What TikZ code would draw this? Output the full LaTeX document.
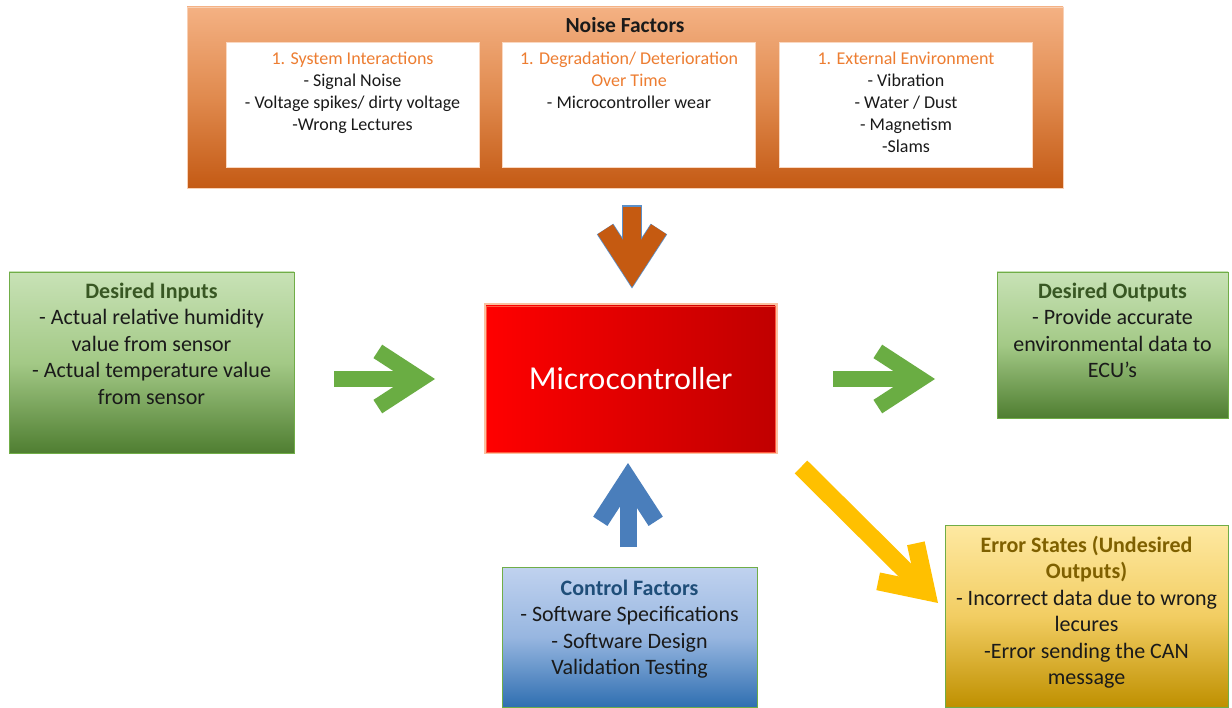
\documentclass[tikz,border=0pt]{standalone}
\usepackage{fontspec}
\setmainfont{Carlito}
\newfontfamily\mcfont{Lato}
\usetikzlibrary{calc}

\definecolor{nfTop}{HTML}{F4B183}
\definecolor{nfMid}{HTML}{E08A4E}
\definecolor{nfBot}{HTML}{C45A14}
\definecolor{nfHead}{HTML}{ED7D31}
\definecolor{grTop}{HTML}{C8E2B6}
\definecolor{grMid}{HTML}{A3C986}
\definecolor{grBot}{HTML}{4F7E31}
\definecolor{grLine}{HTML}{70AD47}
\definecolor{grTitle}{HTML}{385723}
\definecolor{blTop}{HTML}{C0D2EF}
\definecolor{blMid}{HTML}{97B6E0}
\definecolor{blBot}{HTML}{2F6FB1}
\definecolor{blTitle}{HTML}{1F4E79}
\definecolor{ylTop}{HTML}{FEE9A2}
\definecolor{ylMid}{HTML}{F2CD62}
\definecolor{ylBot}{HTML}{BF9000}
\definecolor{ylTitle}{HTML}{7F6000}
\definecolor{mcA}{HTML}{FF0000}
\definecolor{mcB}{HTML}{C00000}
\definecolor{mcGlow}{HTML}{FAC0A0}
\definecolor{mcEdge}{HTML}{FF5A40}
\definecolor{arGreen}{HTML}{6AAD43}
\definecolor{arBrown}{HTML}{C55A11}
\definecolor{arBrownEdge}{HTML}{5B8FC8}
\definecolor{arBlue}{HTML}{4A7EBB}
\definecolor{arYellow}{HTML}{FFC000}
\definecolor{txt}{HTML}{1A1A1A}

% Block arrow: thickness, outer edge length of the head, colour, tail, tip
\newcommand\blockarrow[5]{%
  \pgfmathsetmacro\baoff{#1/2/sin(33)}%
  \pgfmathsetmacro\bawing{#2-#1/2/tan(33)}%
  \coordinate (ba-v) at ($(#5)!\baoff pt!(#4)$);
  \draw[draw=#3, line width=#1pt, line cap=butt] (#4) -- (ba-v);
  \draw[draw=#3, line width=#1pt, line join=miter, line cap=butt]
    ($(ba-v)!\bawing pt!33:(#4)$) -- (ba-v) -- ($(ba-v)!\bawing pt!-33:(#4)$);
}

\tikzset{
  every node/.style={inner sep=0pt, outer sep=0pt},
  body/.style={align=center, text=txt, font=\fontsize{22}{26.5}\selectfont},
  small/.style={align=center, text=txt, font=\fontsize{18}{22}\selectfont},
  greenbox/.style={draw=grLine, line width=0.8pt, top color=grTop, bottom color=grBot, middle color=grMid},
  bluebox/.style={draw=grLine, line width=0.8pt, top color=blTop, bottom color=blBot, middle color=blMid},
  goldbox/.style={draw=grLine, line width=0.8pt, top color=ylTop, bottom color=ylBot, middle color=ylMid},
  noisebox/.style={draw=nfTop!60, line width=0.8pt, top color=nfTop, bottom color=nfBot, middle color=nfMid},
  whitebox/.style={draw=nfTop!50, line width=0.6pt, fill=white, minimum width=253pt, minimum height=125pt},
  mcbox/.style={left color=mcA, right color=mcB, draw=mcEdge, line width=0.8pt,
    preaction={draw=mcGlow, line width=5pt}, text=white,
    font=\mcfont\fontsize{30}{36}\selectfont}
}

\begin{document}
\begin{tikzpicture}[x=1pt, y=-1pt]
\fill[white] (0,0) rectangle (1232,708);
\useasboundingbox (0,0) rectangle (1232,708);

% Noise factors panel
\node[noisebox, minimum width=876pt, minimum height=181pt] (noise) at (625,97.5) {};
\node[font=\bfseries\fontsize{21.5}{26}\selectfont, text=txt] (noiseT) at (625,25) {Noise Factors};
\node[whitebox] (nf1) at (352.5,104.5) {};
\node[whitebox] (nf2) at (629,104.5) {};
\node[whitebox] (nf3) at (906,104.5) {};
\node[small, anchor=north] (nf1T) at (352.5,49.4) {\strut\textcolor{nfHead}{1. System Interactions}\\- Signal Noise\\- Voltage spikes/ dirty voltage\\-Wrong Lectures};
\node[small, anchor=north] (nf2T) at (629,49.4) {\strut\textcolor{nfHead}{1. Degradation/ Deterioration}\\\textcolor{nfHead}{Over Time}\\- Microcontroller wear};
\node[small, anchor=north] (nf3T) at (906,49.4) {\strut\textcolor{nfHead}{1. External Environment}\\- Vibration\\- Water / Dust\\- Magnetism\\-Slams};

% Central block
\node[mcbox, minimum width=289pt, minimum height=146pt] (mc) at (630.5,379) {Microcontroller};

% Inputs and outputs
\node[greenbox, minimum width=285pt, minimum height=181pt] (inBox) at (151.5,362.5) {};
\node[body, anchor=north] (inTxt) at (151.5,279.5) {\strut\textbf{\textcolor{grTitle}{Desired Inputs}}\\- Actual relative humidity\\value from sensor\\- Actual temperature value\\from sensor};

\node[greenbox, minimum width=231pt, minimum height=146pt] (outBox) at (1112.5,345) {};
\node[body, anchor=north] (outTxt) at (1112.5,279.5) {\strut\textbf{\textcolor{grTitle}{Desired Outputs}}\\- Provide accurate\\environmental data to\\ECU’s};

\node[bluebox, minimum width=255pt, minimum height=140pt] (ctrlBox) at (629.5,637) {};
\node[body, anchor=north] (ctrlTxt) at (629.5,576.5) {\strut\textbf{\textcolor{blTitle}{Control Factors}}\\- Software Specifications\\- Software Design\\Validation Testing};

\node[goldbox, minimum width=283pt, minimum height=182pt] (errBox) at (1086.5,616) {};
\node[body, anchor=north] (errTxt) at (1086.5,533.5) {\strut\textbf{\textcolor{ylTitle}{Error States (Undesired}}\\\textbf{\textcolor{ylTitle}{Outputs)}}\\- Incorrect data due to wrong\\lecures\\-Error sending the CAN\\message};

% Arrow end points
\coordinate (inTail) at (334,379);
\coordinate (inTip) at (435,379);
\coordinate (outTail) at (833,379);
\coordinate (outTip) at (935,379);
\coordinate (nzTail) at (632,207);
\coordinate (nzTip) at (632,287);
\coordinate (nzTailE) at (632,205.5);
\coordinate (nzTipE) at (632,288.5);
\coordinate (ctTail) at (628,547);
\coordinate (ctTip) at (628,463);
\coordinate (erTail) at (801,467);
\coordinate (erTip) at (938,603);

% Arrows
\blockarrow{16}{63}{arGreen}{inTail}{inTip}
\blockarrow{16}{63}{arGreen}{outTail}{outTip}
\blockarrow{19.6}{64.5}{arBrownEdge}{nzTailE}{nzTipE}
\blockarrow{18}{63}{arBrown}{nzTail}{nzTip}
\blockarrow{17}{64}{arBlue}{ctTail}{ctTip}
\blockarrow{18}{63}{arYellow}{erTail}{erTip}
\end{tikzpicture}
\end{document}
